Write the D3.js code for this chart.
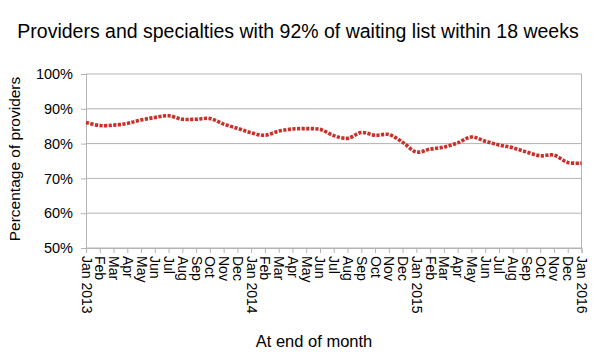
<!DOCTYPE html>
<html>
<head>
<meta charset="utf-8">
<script src="https://cdn.jsdelivr.net/npm/d3@7"></script>
<style>
  body { margin: 0; background: #fff; }
  text { font-family: "Liberation Sans", Arial, sans-serif; fill: #000; }
</style>
</head>
<body>
<div id="chart"></div>
<script>
// months shown on the x axis, Jan 2013 .. Jan 2016
var monthNames = ["Jan", "Feb", "Mar", "Apr", "May", "Jun", "Jul", "Aug", "Sep", "Oct", "Nov", "Dec"];
var years = [2013, 2014, 2015, 2016];

// share of providers/specialties meeting 92% within 18 weeks (percent)
var values2013 = [86.1, 85.2, 85.3, 85.8, 86.8, 87.5, 88.0, 87.0, 87.0, 87.2, 85.6, 84.4];
var values2014 = [83.1, 82.4, 83.6, 84.2, 84.3, 84.1, 82.3, 81.5, 83.2, 82.4, 82.6, 80.4];
var values2015 = [77.6, 78.4, 79.0, 80.2, 81.9, 80.7, 79.6, 78.8, 77.6, 76.5, 76.7, 74.6];
var values2016 = [74.4];

var yTicks = [50, 60, 70, 80, 90, 100];

var values = values2013.concat(values2014, values2015, values2016);
var labels = values.map(function(d, i) {
    var m = i % 12;
    return m == 0 ? monthNames[m] + " " + years[Math.floor(i / 12)] : monthNames[m];
});

var W = 595, H = 360;
var margin = {top: 74, right: 13.5, bottom: 112, left: 86};
var width = W - margin.left - margin.right,
    height = H - margin.top - margin.bottom;

var svg = d3.select("#chart")
    .append("svg")
    .attr("width", W)
    .attr("height", H);

var g = svg.append("g").attr("transform", "translate(" + margin.left + "," + margin.top + ")");

var x = d3.scalePoint().domain(d3.range(values.length)).range([0, width]);
var y = d3.scaleLinear().domain([50, 100]).range([height, 0]);

// horizontal gridlines
g.selectAll("line.grid")
    .data(yTicks)
    .enter()
    .append("line")
        .attr("class", "grid")
        .attr("x1", 0).attr("x2", width)
        .attr("y1", d => y(d)).attr("y2", d => y(d))
        .style("stroke", "#b3b3b3")
        .style("stroke-width", 1);

// right border
g.append("line")
    .attr("x1", width).attr("x2", width)
    .attr("y1", 0).attr("y2", height)
    .style("stroke", "#b3b3b3");

// y axis
var yAxis = g.append("g")
    .call(d3.axisLeft(y).tickValues(yTicks).tickFormat(d => d + "%").tickSize(5).tickPadding(8));
yAxis.select(".domain").style("stroke", "#b3b3b3");
yAxis.selectAll(".tick line").style("stroke", "#b3b3b3");
yAxis.selectAll("text").style("font-size", "14.5px").style("font-family", "Liberation Sans, Arial, sans-serif");

// x axis
var xAxis = g.append("g")
    .attr("transform", "translate(0," + height + ")")
    .call(d3.axisBottom(x).tickFormat(i => labels[i]).tickSize(5));
xAxis.select(".domain").style("stroke", "#b3b3b3");
xAxis.selectAll(".tick line").style("stroke", "#b3b3b3");
xAxis.selectAll("text")
    .style("font-size", "14px")
    .style("font-family", "Liberation Sans, Arial, sans-serif")
    .attr("text-anchor", "start")
    .attr("dy", null)
    .attr("y", 0)
    .attr("x", 0)
    .attr("transform", "translate(-5,8) rotate(90)");

// the line
var line = d3.line()
    .x((d, i) => x(i))
    .y(d => y(d))
    .curve(d3.curveCatmullRom.alpha(0.5));

g.append("path")
    .datum(values)
    .attr("d", line)
    .style("fill", "none")
    .style("stroke", "#c9302a")
    .style("stroke-width", 3.6)
    .style("stroke-dasharray", "3.2,1.4");

// title
svg.append("text")
    .attr("x", 298)
    .attr("y", 38)
    .attr("text-anchor", "middle")
    .style("font-size", "19.5px")
    .text("Providers and specialties with 92% of waiting list within 18 weeks");

// axis titles
svg.append("text")
    .attr("transform", "translate(20," + (margin.top + height / 2 - 2) + ") rotate(-90)")
    .attr("text-anchor", "middle")
    .style("font-size", "15.5px")
    .text("Percentage of providers");

svg.append("text")
    .attr("x", 314)
    .attr("y", 347)
    .attr("text-anchor", "middle")
    .style("font-size", "16.5px")
    .text("At end of month");
</script>
</body>
</html>
